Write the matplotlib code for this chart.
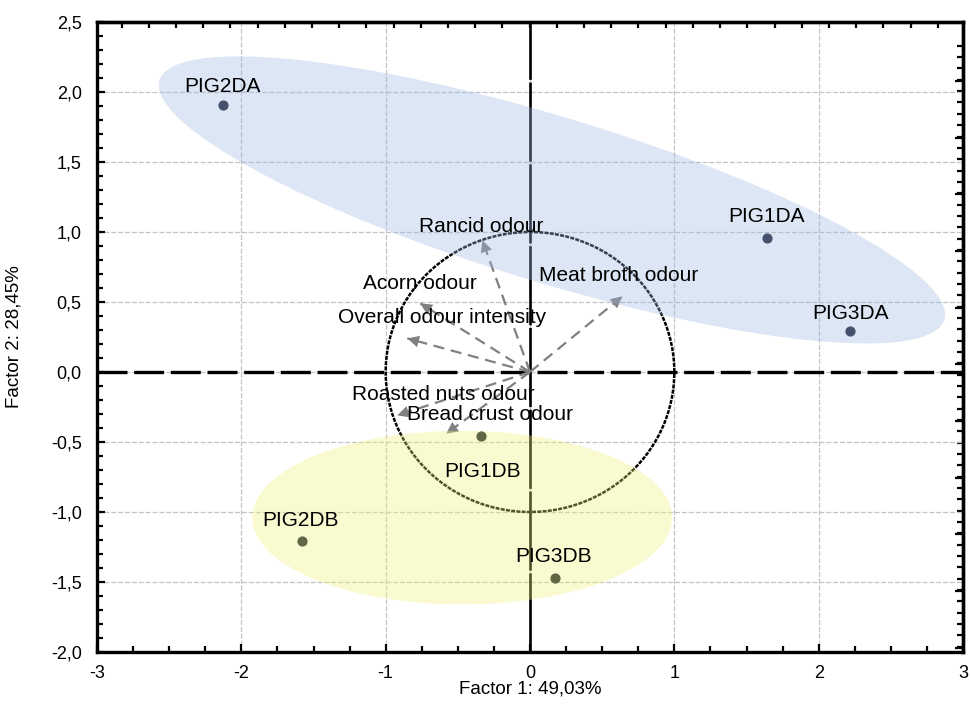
import numpy as np
import matplotlib
matplotlib.use("Agg")
import matplotlib.pyplot as plt
from matplotlib.patches import Ellipse, FancyArrowPatch
from matplotlib.ticker import FixedLocator, FuncFormatter, MultipleLocator

plt.rcParams['font.family'] = ['Liberation Sans', 'DejaVu Sans']

# Sample scores (Factor 1, Factor 2)
samples = ["PIG1DA", "PIG2DA", "PIG3DA", "PIG1DB", "PIG2DB", "PIG3DB"]
sample_f1 = [1.64, -2.13, 2.22, -0.34, -1.58, 0.17]
sample_f2 = [0.96, 1.91, 0.29, -0.46, -1.21, -1.47]

# Attribute loadings (Factor 1, Factor 2)
attributes = ["Rancid odour", "Meat broth odour", "Acorn odour",
              "Overall odour intensity", "Roasted nuts odour", "Bread crust odour"]
attr_f1 = [-0.33, 0.64, -0.76, -0.85, -0.92, -0.58]
attr_f2 = [0.94, 0.54, 0.49, 0.24, -0.31, -0.44]

x_label = "Factor 1: 49,03%"
y_label = "Factor 2: 28,45%"
x_ticks = [-3, -2, -1, 0, 1, 2, 3]
y_ticks = [-2.0, -1.5, -1.0, -0.5, 0.0, 0.5, 1.0, 1.5, 2.0, 2.5]

fig = plt.figure(figsize=(9.71, 7.25), dpi=100)
ax = fig.add_axes([97 / 971, 1 - 652 / 725, (963 - 97) / 971, (652 - 22) / 725])
ax.set_xlim(-3, 3)
ax.set_ylim(-2, 2.5)

# Grid and ticks
ax.set_xticks(x_ticks)
ax.set_yticks(y_ticks)
ax.xaxis.set_minor_locator(MultipleLocator(0.25))
ax.yaxis.set_minor_locator(MultipleLocator(0.1))
ax.grid(True, which='major', color='#c4c4c4', linestyle=(0, (4, 1.5)), linewidth=0.9, zorder=0)
ax.yaxis.set_major_formatter(FuncFormatter(lambda v, p: f"{v:.1f}".replace('.', ',')))
ax.xaxis.set_major_formatter(FuncFormatter(lambda v, p: f"{int(v)}"))
ax.tick_params(which='both', direction='in', width=1.6, labelsize=13)
ax.tick_params(axis='y', pad=11)
ax.tick_params(axis='x', pad=9)
ax.tick_params(which='major', length=6)
ax.tick_params(which='minor', length=4)
for s in ax.spines.values():
    s.set_linewidth(2.4)

# Extra tick scales on top and right frame
top = ax.secondary_xaxis('top')
top.xaxis.set_major_locator(FixedLocator(np.arange(-2.83, 3.0, 0.1885)))
top.tick_params(direction='in', length=4, width=1.6, labeltop=False)
top.spines['top'].set_linewidth(2.4)
right = ax.secondary_yaxis('right')
right.yaxis.set_major_locator(FixedLocator(np.arange(2.08, -2.1, -0.405)))
right.yaxis.set_minor_locator(FixedLocator(np.arange(2.33, -2.1, -0.081)))
right.tick_params(which='major', direction='in', length=6, width=1.6, labelright=False)
right.tick_params(which='minor', direction='in', length=4, width=1.6)
right.spines['right'].set_linewidth(2.4)

# Zero reference lines
ax.axhline(0, color='black', linewidth=2.4, linestyle=(0, (9, 2)), zorder=2)
ax.axvline(0, color='black', linewidth=1.9, linestyle=(0, (30, 1)), zorder=2)

# Unit correlation circle
t = np.linspace(0, 2 * np.pi, 400)
ax.plot(np.cos(t), np.sin(t), color='black', linewidth=1.8,
        linestyle=(0, (1.6, 0.5)), zorder=3)

# Loading vectors
for fx, fy in zip(attr_f1, attr_f2):
    ax.plot([0, fx], [0, fy], color='#808080', linewidth=1.6,
            linestyle=(0, (5, 3)), zorder=3)
    d = np.hypot(fx, fy)
    start = (fx - 0.08 * fx / d, fy - 0.08 * fy / d)
    ax.add_patch(FancyArrowPatch(start, (fx, fy), arrowstyle='-|>,head_length=0.6,head_width=0.3',
                                 mutation_scale=14, color='#808080', lw=0,
                                 shrinkA=0, shrinkB=0, zorder=3))

attr_text = {
    "Rancid odour": (-0.77, 1.04),
    "Meat broth odour": (0.06, 0.69),
    "Acorn odour": (-1.16, 0.63),
    "Overall odour intensity": (-1.33, 0.39),
    "Roasted nuts odour": (-1.23, -0.16),
    "Bread crust odour": (-0.85, -0.30),
}
for name in attributes:
    tx, ty = attr_text[name]
    ax.text(tx, ty, name, fontsize=15, ha='left', va='center', color='black', zorder=6)

# Sample scores
ax.scatter(sample_f1, sample_f2, s=40, color='#141c2a', zorder=4)
label_offset = {
    "PIG1DA": (0.0, 0.15), "PIG2DA": (0.0, 0.13), "PIG3DA": (0.0, 0.13),
    "PIG1DB": (0.01, -0.25), "PIG2DB": (-0.01, 0.15), "PIG3DB": (-0.01, 0.15),
}
for name, fx, fy in zip(samples, sample_f1, sample_f2):
    dx, dy = label_offset[name]
    ax.text(fx + dx, fy + dy, name, fontsize=15, ha='center', va='center', zorder=6)

# Group ellipses
ax.add_patch(Ellipse((0.152, 1.229), width=5.70, height=1.18, angle=-17.5,
                     facecolor=(155 / 255, 184 / 255, 226 / 255), alpha=0.35,
                     edgecolor='none', zorder=5))
ax.add_patch(Ellipse((-0.47, -1.04), width=2.91, height=1.24,
                     facecolor=(241 / 255, 241 / 255, 121 / 255), alpha=0.35,
                     edgecolor='none', zorder=5))

ax.set_xlabel(x_label, fontsize=13.5)
ax.set_ylabel(y_label, fontsize=13.5)
ax.xaxis.set_label_coords(0.5, -0.045)
ax.yaxis.set_label_coords(-0.086, 0.5)

fig.savefig("out.png", dpi=100)
